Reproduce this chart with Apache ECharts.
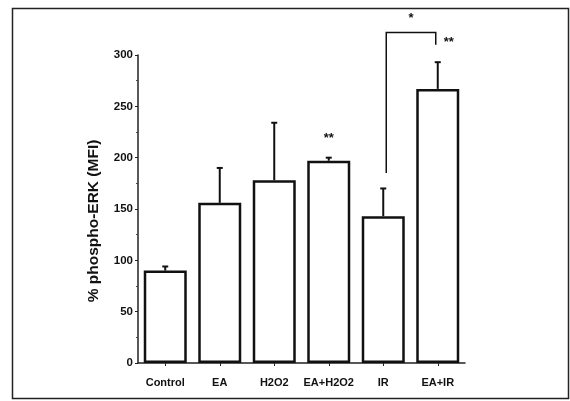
<!DOCTYPE html>
<html><head><meta charset="utf-8">
<script src="https://cdn.jsdelivr.net/npm/echarts@6/dist/echarts.min.js"></script>
<style>html,body{margin:0;padding:0;background:#fff;}#c{width:570px;height:401px;}</style>
</head><body><div id="c"></div>
<script>
var categories = ['Control', 'EA', 'H2O2', 'EA+H2O2', 'IR', 'EA+IR'];
var means = [90, 156, 178, 197, 143, 267];
var errorTops = [94, 190, 234, 200, 170, 293];
var yTicks = [0, 50, 100, 150, 200, 250, 300];
var sigMarks = [
  {cat: 3, y: 219, text: '**', dx: 0},
  {cat: 5, y: 312, text: '**', dx: 11}
];
var bracket = {from: 4, to: 5, leftY: 185, topY: 322, rightY: 310, star: '*', starY: 336};

var chart = echarts.init(document.getElementById('c'));
var fontFam = '"Liberation Sans", Arial, sans-serif';

chart.setOption({
  animation: false,
  backgroundColor: '#fff',
  graphic: [{type: 'rect', shape: {x: 12.5, y: 8.5, width: 556, height: 390}, style: {fill: 'none', stroke: '#222', lineWidth: 1.5}, z: -1}],
  grid: {left: 138, right: 105, top: 55, bottom: 38},
  xAxis: {
    type: 'category', data: categories,
    axisLine: {lineStyle: {color: '#222', width: 1.5}},
    axisTick: {show: true, alignWithLabel: true, length: 3, lineStyle: {color: '#222'}},
    axisLabel: {interval: 0, margin: 14, color: '#111', fontSize: 11, fontWeight: 'bold', fontFamily: fontFam}
  },
  yAxis: {
    type: 'value', min: 0, max: 300, interval: 50,
    name: '% phospho-ERK (MFI)', nameLocation: 'middle', nameGap: 36,
    nameTextStyle: {fontSize: 15.5, fontWeight: 'bold', color: '#111', fontFamily: fontFam, padding: [0, 24, 0, 0]},
    axisLine: {show: true, lineStyle: {color: '#222', width: 1.5}},
    axisTick: {show: true, length: 3, lineStyle: {color: '#222'}},
    minorTick: {show: true, splitNumber: 2, length: 2, lineStyle: {color: '#444'}},
    splitLine: {show: false},
    axisLabel: {margin: 5, fontSize: 11.5, fontWeight: 'bold', color: '#111', fontFamily: fontFam,
      formatter: function (v) { return yTicks.indexOf(v) >= 0 ? String(v) : ''; }}
  },
  series: [
    {
      type: 'bar', data: means, barWidth: 43,
      itemStyle: {color: '#fff', borderColor: '#111', borderWidth: 2.5}, z: 2
    },
    {
      type: 'custom', clip: false, z: 1,
      renderItem: function (params, api) {
        var i = api.value(0);
        var base = api.coord([i, api.value(1)]);
        var top = api.coord([i, api.value(2)]);
        return {type: 'group', children: [
          {type: 'line', shape: {x1: base[0], y1: base[1], x2: top[0], y2: top[1]}, style: {stroke: '#111', lineWidth: 2}},
          {type: 'line', shape: {x1: top[0] - 3, y1: top[1], x2: top[0] + 3, y2: top[1]}, style: {stroke: '#111', lineWidth: 2}}
        ]};
      },
      data: means.map(function (m, i) { return [i, m, errorTops[i]]; })
    },
    {
      type: 'custom', clip: false, z: 3,
      renderItem: function (params, api) {
        var p = api.coord([api.value(0), api.value(1)]);
        var m = sigMarks[params.dataIndex];
        return {type: 'text', x: p[0] + m.dx, y: p[1], style: {text: m.text, fill: '#111', font: 'bold 13px ' + fontFam, textAlign: 'center', textVerticalAlign: 'middle'}};
      },
      data: sigMarks.map(function (s) { return [s.cat, s.y]; })
    },
    {
      type: 'custom', clip: false, z: 3,
      renderItem: function (params, api) {
        var a = api.coord([bracket.from, bracket.leftY]);
        var b = api.coord([bracket.from, bracket.topY]);
        var c = api.coord([bracket.to, bracket.topY]);
        var d = api.coord([bracket.to, bracket.rightY]);
        a[0] += 3; b[0] += 3; c[0] -= 2; d[0] -= 2;
        var sx = (b[0] + c[0]) / 2;
        var sy = api.coord([bracket.from, bracket.starY])[1];
        return {type: 'group', children: [
          {type: 'polyline', shape: {points: [a, b, c, d]}, style: {stroke: '#111', lineWidth: 1.5, fill: 'none'}},
          {type: 'text', x: sx, y: sy, style: {text: bracket.star, fill: '#111', font: 'bold 13px ' + fontFam, textAlign: 'center', textVerticalAlign: 'middle'}}
        ]};
      },
      data: [[0, 0]]
    }
  ]
});
</script></body></html>
